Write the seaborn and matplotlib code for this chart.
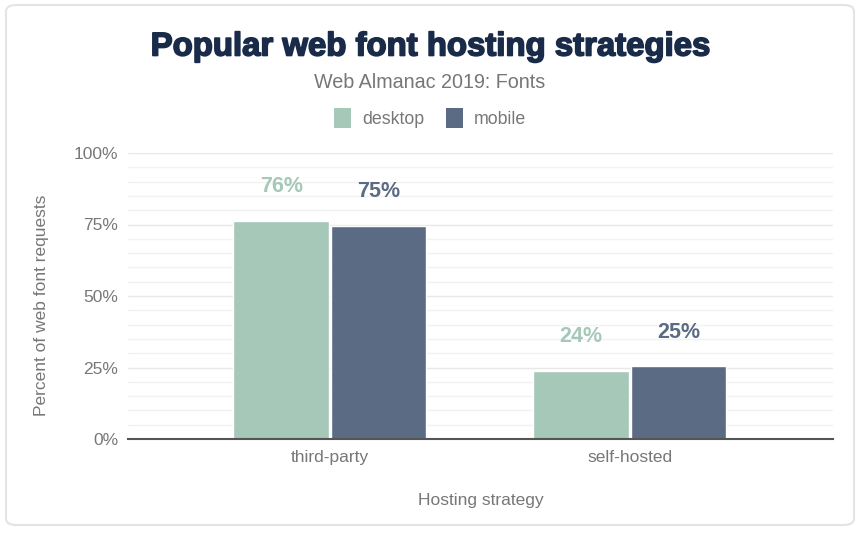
import matplotlib
matplotlib.use("Agg")
import matplotlib.pyplot as plt
import matplotlib.patheffects as pe
import seaborn as sns
import pandas as pd
from matplotlib.patches import FancyBboxPatch, Patch
from matplotlib.ticker import MultipleLocator, FuncFormatter

categories = ["third-party", "self-hosted"]
series = ["desktop", "mobile"]
desktop_values = [76.2, 23.8]
mobile_values = [74.6, 25.4]

colors = {"desktop": "#a6c8b8", "mobile": "#5c6b84"}

df = pd.DataFrame({
    "strategy": categories * 2,
    "client": ["desktop"] * 2 + ["mobile"] * 2,
    "value": desktop_values + mobile_values,
})

sns.set_theme(style="white")
plt.rcParams["font.family"] = ["Liberation Sans", "DejaVu Sans"]

fig = plt.figure(figsize=(8.6, 5.33), dpi=100)
W, H = 860, 533
ax = fig.add_axes([128 / W, 1 - 439 / H, (833 - 128) / W, (439 - 153) / H])

card = FancyBboxPatch((6 / W, 8 / H), (854 - 6) / W, (528 - 8) / H,
                      boxstyle="round,pad=0,rounding_size=0.012",
                      transform=fig.transFigure, facecolor="white",
                      edgecolor="#e4e4e4", linewidth=1.5, zorder=-10)
fig.patches.append(card)

sns.barplot(data=df, x="strategy", y="value", hue="client", order=categories,
            hue_order=series, palette=colors, width=0.65, gap=0.02,
            saturation=1, ax=ax, legend=False, zorder=3)

ax.set_xlim(-0.673, 1.677)
ax.set_ylim(0, 100)
ax.yaxis.set_major_locator(MultipleLocator(25))
ax.yaxis.set_minor_locator(MultipleLocator(5))
ax.yaxis.set_major_formatter(FuncFormatter(lambda v, p: f"{v:.0f}%"))
ax.grid(axis="y", which="major", color="#e8e8e8", linewidth=1, zorder=0)
ax.grid(axis="y", which="minor", color="#f2f2f2", linewidth=1, zorder=0)
ax.set_axisbelow(True)
for s in ["top", "right", "left"]:
    ax.spines[s].set_visible(False)
ax.spines["bottom"].set_color("#555555")
ax.spines["bottom"].set_linewidth(1.5)
ax.spines["bottom"].set_zorder(5)
ax.tick_params(axis="both", which="both", length=0, labelsize=12.5, labelcolor="#777777")
ax.tick_params(axis="y", pad=7)
ax.tick_params(axis="x", pad=8)

ax.set_xlabel("Hosting strategy", fontsize=12.5, color="#777777")
ax.set_ylabel("Percent of web font requests", fontsize=12.5, color="#777777")
ax.xaxis.set_label_coords(0.5, -(500 - 439) / (439 - 153), transform=ax.transAxes)
ax.yaxis.set_label_coords(-(128 - 42) / (833 - 128), (439 - 305) / (439 - 153),
                          transform=ax.transAxes)
ax.xaxis.label.set_va("center")
ax.yaxis.label.set_va("center")

# value labels
for container, name in zip(ax.containers, series):
    for bar in container:
        h = bar.get_height()
        ax.annotate(f"{h:.0f}%", (bar.get_x() + bar.get_width() / 2, h),
                    xytext=(0, 17), textcoords="offset points", ha="center",
                    va="bottom", fontsize=15.5, fontweight="bold",
                    color=colors[name])

fig.text(0.5, 1 - 47 / H, "Popular web font hosting strategies", ha="center",
         va="center", fontsize=23.7, fontweight="bold", color="#1a2b49",
         path_effects=[pe.withStroke(linewidth=1.2, foreground="#1a2b49")])
fig.text(0.5, 1 - 82 / H, "Web Almanac 2019: Fonts", ha="center", va="center",
         fontsize=14.2, color="#777777")

handles = [Patch(facecolor=colors[s], edgecolor="none") for s in series]
fig.legend(handles, series, loc="center", bbox_to_anchor=(0.5, 1 - 118 / H),
           ncol=2, frameon=False, fontsize=12.8, handlelength=1.0, handleheight=1.3,
           columnspacing=1.2, handletextpad=0.6, labelcolor="#777777")

fig.savefig("out.png", dpi=100)
